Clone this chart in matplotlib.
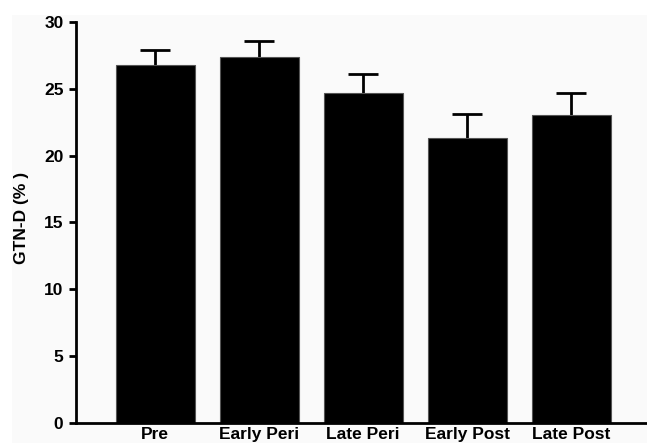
import matplotlib
matplotlib.use("Agg")
import matplotlib.pyplot as plt
from matplotlib.patches import Rectangle

categories = ["Pre", "Early Peri", "Late Peri", "Early Post", "Late Post"]
means = [26.8, 27.35, 24.7, 21.35, 23.05]
sems = [1.1, 1.25, 1.4, 1.75, 1.65]
yticks = [0, 5, 10, 15, 20, 25, 30]

plt.rcParams['font.family'] = ['Liberation Sans', 'DejaVu Sans']
plt.rcParams['font.weight'] = 'bold'

W, H = 647, 443
fig = plt.figure(figsize=(W / 100, H / 100), dpi=100)
fig.patch.set_facecolor('white')
fig.add_artist(Rectangle((12 / W, 0), 1 - 12 / W, 1 - 15 / H, transform=fig.transFigure,
                         facecolor='#fafafa', edgecolor='none', zorder=0))

left, right = 76 / W, 1.0
bottom, top = 1 - 422.7 / H, 1 - 22 / H
ax = fig.add_axes([left, bottom, right - left, top - bottom])
ax.set_facecolor('none')

x = list(range(len(categories)))
ax.errorbar(x, means, yerr=sems, fmt='none', ecolor='black',
            elinewidth=2, capsize=11, capthick=2, zorder=1)
ax.bar(x, means, width=0.76, color='black', edgecolor='#555555', linewidth=0.8, zorder=2)

ax.set_xlim(-0.76, 4.73)
ax.set_ylim(0, 30)
ax.set_yticks(yticks)
ax.set_yticklabels([str(t) for t in yticks], fontsize=12.5, fontweight='bold')
ax.set_xticks(x)
ax.set_xticklabels(categories, fontsize=12.5, fontweight='bold')
ax.tick_params(axis='x', length=0, pad=3)
ax.tick_params(axis='y', length=5, width=2, direction='out', pad=4)

for s in ['top', 'right']:
    ax.spines[s].set_visible(False)
for s in ['left', 'bottom']:
    ax.spines[s].set_linewidth(2)

ax.set_ylabel("GTN-D (% )", fontsize=12.5, fontweight='bold')
ax.yaxis.set_label_coords(-(76 - 29) / (W * (right - left)), (422.7 - 218) / 400.7)

fig.savefig("out.png", dpi=100, facecolor='white')
